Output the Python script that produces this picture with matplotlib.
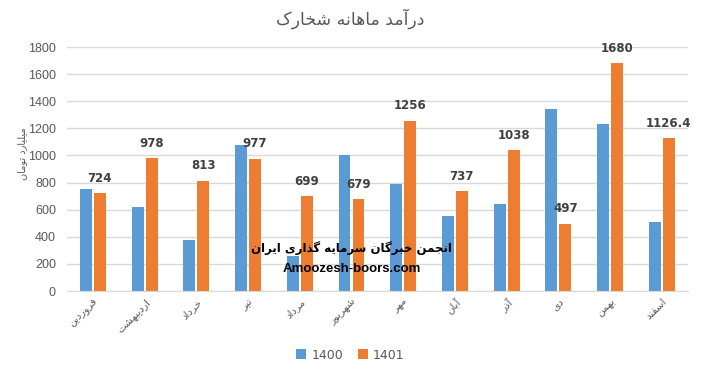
import matplotlib
matplotlib.use("Agg")
import matplotlib.pyplot as plt
import numpy as np

# data (میلیارد تومان)
months = ["فروردین", "اردیبهشت", "خرداد", "تیر", "مرداد", "شهریور",
          "مهر", "آبان", "آذر", "دی", "بهمن", "اسفند"]
sales_1400 = [750, 620, 375, 1080, 260, 1000, 790, 550, 640, 1340, 1230, 510]
sales_1401 = [724, 978, 813, 977, 699, 679, 1256, 737, 1038, 497, 1680, 1126.4]
series_names = ["1400", "1401"]

title = "درآمد ماهانه شخارک"
ylabel = "میلیارد تومان"
wm_fa = "انجمن خبرگان سرمایه گذاری ایران"
wm_en = "Amoozesh-boors.com"

# simple arabic/persian shaping (matplotlib has no bidi / joining)
# isolated, final, initial, medial
FORMS = {
    "ا": ("\uFE8D", "\uFE8E", None, None),
    "آ": ("\uFE81", "\uFE82", None, None),
    "د": ("\uFEA9", "\uFEAA", None, None),
    "ذ": ("\uFEAB", "\uFEAC", None, None),
    "ر": ("\uFEAD", "\uFEAE", None, None),
    "ز": ("\uFEAF", "\uFEB0", None, None),
    "و": ("\uFEED", "\uFEEE", None, None),
    "ب": ("\uFE8F", "\uFE90", "\uFE91", "\uFE92"),
    "ت": ("\uFE95", "\uFE96", "\uFE97", "\uFE98"),
    "ج": ("\uFE9D", "\uFE9E", "\uFE9F", "\uFEA0"),
    "خ": ("\uFEA5", "\uFEA6", "\uFEA7", "\uFEA8"),
    "س": ("\uFEB1", "\uFEB2", "\uFEB3", "\uFEB4"),
    "ش": ("\uFEB5", "\uFEB6", "\uFEB7", "\uFEB8"),
    "ف": ("\uFED1", "\uFED2", "\uFED3", "\uFED4"),
    "ل": ("\uFEDD", "\uFEDE", "\uFEDF", "\uFEE0"),
    "م": ("\uFEE1", "\uFEE2", "\uFEE3", "\uFEE4"),
    "ن": ("\uFEE5", "\uFEE6", "\uFEE7", "\uFEE8"),
    "ه": ("\uFEE9", "\uFEEA", "\uFEEB", "\uFEEC"),
    "ک": ("\uFB8E", "\uFB8F", "\uFB90", "\uFB91"),
    "گ": ("\uFB92", "\uFB93", "\uFB94", "\uFB95"),
    "ی": ("\uFBFC", "\uFBFD", "\uFBFE", "\uFBFF"),
    "پ": ("\uFB56", "\uFB57", "\uFB58", "\uFB59"),
}


def fa(text):
    out = []
    for i, c in enumerate(text):
        if c not in FORMS:
            out.append(c)
            continue
        prev = text[i - 1] if i > 0 else None
        nxt = text[i + 1] if i < len(text) - 1 else None
        join_prev = prev in FORMS and FORMS[prev][2] is not None
        join_next = nxt in FORMS and FORMS[c][2] is not None
        iso, fin, ini, med = FORMS[c]
        if join_prev and join_next:
            out.append(med)
        elif join_prev:
            out.append(fin)
        elif join_next:
            out.append(ini)
        else:
            out.append(iso)
    return "".join(reversed(out))


plt.rcParams["font.family"] = ["DejaVu Sans"]

blue = "#5B9BD5"
orange = "#ED7D31"
grey = "#595959"

fig = plt.figure(figsize=(7.01, 3.71), dpi=100)
ax = fig.add_axes([0.0956, 0.2156, 0.8854, 0.6577])

x = np.arange(len(months))
w = 0.23
ax.bar(x - 0.135, sales_1400, w, color=blue, label=series_names[0], zorder=2)
bars = ax.bar(x + 0.135, sales_1401, w, color=orange, label=series_names[1], zorder=2)

for b, v in zip(bars, sales_1401):
    ax.annotate(f"{v:g}", (b.get_x() + b.get_width() / 2, b.get_height()),
                xytext=(0, 6), textcoords="offset points", ha="center", va="bottom",
                fontsize=8.5, fontweight="bold", color="#404040", zorder=4)

ax.set_xlim(-0.5, len(months) - 0.5)
ax.set_ylim(0, 1800)
ax.set_yticks(np.arange(0, 1801, 200))
ax.yaxis.grid(True, color="#D9D9D9", linewidth=1, zorder=0)
ax.set_axisbelow(True)
for s in ["top", "right", "left"]:
    ax.spines[s].set_visible(False)
ax.spines["bottom"].set_color("#D9D9D9")
ax.tick_params(axis="y", length=0, labelsize=9, colors=grey, pad=8)
for t in ax.get_yticklabels():
    t.set_family("Liberation Sans")
ax.tick_params(axis="x", length=0, colors=grey, pad=4)
ax.set_xticks(x)
ax.set_xticklabels([fa(m) for m in months], rotation=45, ha="right",
                   rotation_mode="anchor", fontsize=7.5)

fig.text(0.031, 0.585, fa(ylabel), rotation=90, ha="center", va="center",
         fontsize=7, color=grey)
fig.text(0.5, 0.95, fa(title), ha="center", va="center", fontsize=12.5, color=grey)

# watermark
fig.text(0.502, 0.331, fa(wm_fa), ha="center", va="center", fontsize=8.5,
         fontweight="bold", color="black", zorder=5)
fig.text(0.502, 0.276, wm_en, ha="center", va="center", fontsize=9.5,
         fontweight="bold", color="black", family="Liberation Sans", zorder=5)

fig.legend(loc="center", bbox_to_anchor=(0.5, 0.043), ncol=2, frameon=False,
           fontsize=9, handlelength=0.8, handleheight=0.8, handletextpad=0.4,
           columnspacing=1.2, labelcolor=grey)

fig.savefig("out.png", dpi=100)
